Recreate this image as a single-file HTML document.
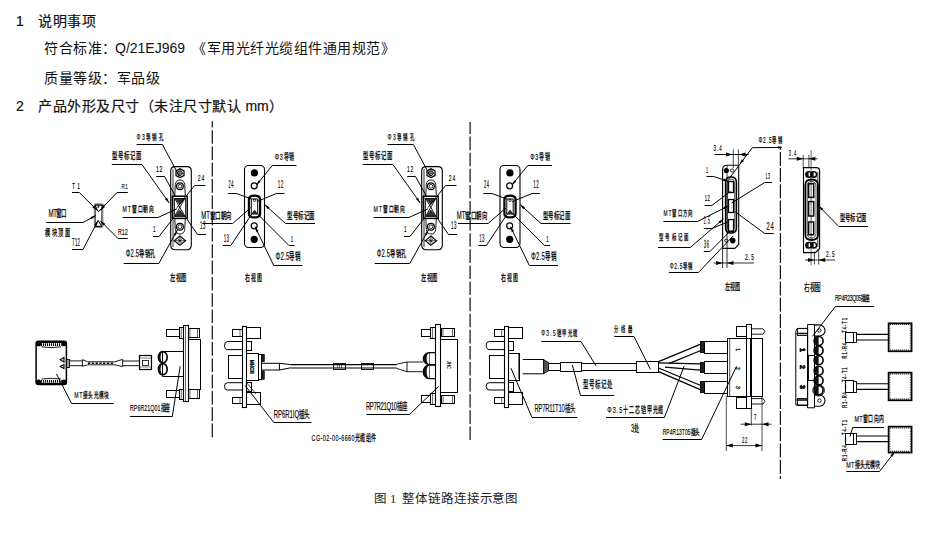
<!DOCTYPE html>
<html lang="zh-CN"><head><meta charset="utf-8">
<style>
html,body{margin:0;padding:0;background:#fff;}
body{width:929px;height:558px;overflow:hidden;position:relative;font-family:"Liberation Sans",sans-serif;color:#000;}
.t{position:absolute;white-space:nowrap;font-size:14px;line-height:14px;color:#111;letter-spacing:0.5px;}
.h{-webkit-text-stroke:0.2px #111;}
.lat{letter-spacing:0;}
svg{position:absolute;left:0;top:0;}
svg text{font-family:"Liberation Sans",sans-serif;fill:#000;stroke:#000;stroke-width:0.25px;}
</style></head><body>
<div class="t h" style="left:16px;top:14px">1</div>
<div class="t h" style="left:38px;top:14px">说明事项</div>
<div class="t" style="left:44px;top:41px">符合标准：</div>
<div class="t lat" style="left:115px;top:41px">Q/21EJ969</div>
<div class="t" style="left:192px;top:41px">《军用光纤光缆组件通用规范》</div>
<div class="t" style="left:44px;top:71px">质量等级：军品级</div>
<div class="t h" style="left:16px;top:99px">2</div>
<div class="t h" style="left:38px;top:99px">产品外形及尺寸（未注尺寸默认 <span class="lat">mm</span>）</div>
<div class="t" style="left:374px;top:491.5px;font-family:'Liberation Serif',serif;font-size:12.5px;letter-spacing:-0.1px;color:#222">图 1 &nbsp;整体链路连接示意图</div>
<svg width="929" height="558" viewBox="0 0 929 558" fill="none" stroke="#000" stroke-width="1" stroke-linecap="butt">
<path d="M212.3,121.3 V439.3" stroke-width="1.3" stroke="#222" stroke-dasharray="13.6 2.7" stroke-dashoffset="7.4"/>
<path d="M470.1,440 V122" stroke-width="1.3" stroke="#222" stroke-dasharray="13.6 2.5"/>
<path d="M780.4,146.5 V479" stroke-width="1.2" stroke="#111" stroke-dasharray="14 2.2" stroke-dashoffset="10.8"/>
<rect x="94.6" y="204" width="8" height="23.2" rx="1" stroke="#888" stroke-width="1.6"/>
<rect x="95.6" y="205" width="6" height="21.2" stroke="#222" stroke-width="0.6"/>
<path d="M95,205.2 L105,205.2 L98.3,211.8 Z" stroke-width="1.0" />
<circle cx="98.40" cy="206.90" r="0.90" stroke-width="0" fill="#000"/>
<path d="M95,226.4 L101.8,226.4 L98.2,220.4 Z" stroke-width="1.0" />
<path d="M72.00,192.50 L79.40,192.50 L97.20,210.40" stroke-width="1.0" />
<path d="M97.20,210.40 L92.40,207.42 L94.24,205.58Z" fill="#000" stroke="none"/>
<path d="M127.80,192.50 L117.00,192.50 L100.00,210.40" stroke-width="1.0" />
<path d="M100.00,210.40 L102.84,205.52 L104.73,207.31Z" fill="#000" stroke="none"/>
<path d="M46.30,222.50 L83.00,222.50 L96.00,215.40" stroke-width="1.0" />
<path d="M96.00,215.40 L91.80,219.18 L90.55,216.90Z" fill="#000" stroke="none"/>
<path d="M72.00,249.50 L83.00,249.50 L98.00,220.50" stroke-width="1.0" />
<path d="M98.00,220.50 L96.63,225.98 L94.32,224.79Z" fill="#000" stroke="none"/>
<path d="M127.80,238.50 L118.00,238.50 L100.40,220.80" stroke-width="1.0" />
<path d="M100.40,220.80 L105.20,223.78 L103.36,225.62Z" fill="#000" stroke="none"/>
<text transform="translate(72.00,188.70) scale(0.560,1)" x="0" y="0" font-size="8.75" textLength="14.29" lengthAdjust="spacing" font-weight="400"  style="stroke-width:0.15px">T1</text>
<text transform="translate(121.50,188.70) scale(0.560,1)" x="0" y="0" font-size="7.92" textLength="11.25" lengthAdjust="spacing" font-weight="400"  style="stroke-width:0.15px">R1</text>
<text transform="translate(48.60,216.71) scale(0.560,1)" x="0" y="0" font-size="9.89" textLength="32.68" lengthAdjust="spacing" font-weight="400" ><tspan font-size="10.88" style="stroke-width:0.15px">MT</tspan>窗口</text>
<text transform="translate(45.40,235.95) scale(0.560,1)" x="0" y="0" font-size="9.24" textLength="43.21" lengthAdjust="spacing" font-weight="400" >模块顶面</text>
<text transform="translate(72.00,246.00) scale(0.390,1)" x="0" y="0" font-size="11.11" textLength="20.53" lengthAdjust="spacing" font-weight="400"  style="stroke-width:0.15px">T12</text>
<text transform="translate(118.00,235.00) scale(0.545,1)" x="0" y="0" font-size="9.72" textLength="17.97" lengthAdjust="spacing" font-weight="400"  style="stroke-width:0.15px">R12</text>
<g><path d="M170.7,170.8 Q170.7,166.6 174.9,166.6 H187.1 Q191.3,166.6 191.3,170.8 V245 Q191.3,249.7 187,249.7 H175 Q170.7,249.7 170.7,245 Z" stroke-width="1.1" />
<path d="M173,169 V247" stroke-width="0.8" />
<path d="M176,170.8 L180,168.8 L184,170.8 L184,175.6 L180,177.6 L176,175.6 Z" stroke-width="1.3" />
<circle cx="179.90" cy="173.20" r="2.30" stroke-width="1.0" fill="none"/>
<path d="M177,173.2 H183 M179.9,170.4 V176" stroke-width="0.7" />
<path d="M174.8,195.5 L175.3,184.5 Q176,180 180,180 Q184,180 184.7,184.5 L185.3,195.5" stroke-width="0.9" />
<circle cx="179.90" cy="186.30" r="3.40" stroke-width="1.2" fill="none"/>
<circle cx="179.90" cy="186.30" r="1.90" stroke-width="0.8" fill="none"/>
<rect x="172.30" y="196.20" width="14.90" height="22.20" rx="0" stroke-width="1.5" fill="none" />
<rect x="174.50" y="198.50" width="11.00" height="18.00" rx="0" stroke-width="0.8" fill="none" />
<path d="M175,199 L184.6,215.6 M184.6,199 L175,215.6" stroke-width="0.9" />
<path d="M175.2,198.6 L184.4,198.6 L179.8,204.5 Z M175.2,216 L184.4,216 L179.8,210 Z" stroke-width="0.6" fill="#333"/>
<path d="M174.8,218.5 L175.3,229.5 Q176,234 180,234 Q184,234 184.7,229.5 L185.3,218.5" stroke-width="0.9" />
<circle cx="179.90" cy="226.70" r="3.40" stroke-width="1.2" fill="none"/>
<circle cx="179.90" cy="226.70" r="1.90" stroke-width="0.8" fill="none"/>
<path d="M179.9,236 L185.5,240.7 L179.9,245.4 L174.3,240.7 Z" stroke-width="1.1" />
<path d="M173.5,240.7 H186.3 M179.9,236.5 V245 M177.2,238.3 L182.6,243.1 M182.6,238.3 L177.2,243.1" stroke-width="0.7" />
<path d="M136.60,144.50 L162.40,144.50 L179.20,176.00" stroke-width="1.0" />
<path d="M111.80,164.50 L141.90,164.50 L169.20,203.00" stroke-width="1.0" />
<path d="M169.20,203.00 L164.96,199.27 L167.08,197.76Z" fill="#000" stroke="none"/>
<path d="M156.30,176.50 L164.50,176.50 L175.30,196.00" stroke-width="1.0" />
<path d="M205.40,185.50 L194.60,185.50 L177.00,207.50" stroke-width="1.0" />
<path d="M122.60,217.50 L158.00,217.50 L177.00,208.80" stroke-width="1.0" />
<path d="M153.00,236.50 L159.00,236.50 L174.50,216.50" stroke-width="1.0" />
<path d="M206.00,234.50 L197.50,234.50 L184.50,215.50" stroke-width="1.0" />
<path d="M123.70,263.50 L158.80,263.50 L177.40,230.00" stroke-width="1.0" />
<path d="M177.40,230.00 L175.87,235.44 L173.59,234.18Z" fill="#000" stroke="none"/>
<text transform="translate(136.60,139.92) scale(0.560,1)" x="0" y="0" font-size="8.04" textLength="47.86" lengthAdjust="spacing" font-weight="400" ><tspan font-size="8.85" style="stroke-width:0.15px">Φ3</tspan>导销孔</text>
<text transform="translate(111.80,159.23) scale(0.560,1)" x="0" y="0" font-size="9.57" textLength="53.93" lengthAdjust="spacing" font-weight="400" >型号标记面</text>
<text transform="translate(156.00,171.60) scale(0.560,1)" x="0" y="0" font-size="9.17" textLength="11.43" lengthAdjust="spacing" font-weight="400"  style="stroke-width:0.15px">12</text>
<text transform="translate(197.80,181.30) scale(0.560,1)" x="0" y="0" font-size="9.03" textLength="11.61" lengthAdjust="spacing" font-weight="400"  style="stroke-width:0.15px">24</text>
<text transform="translate(122.60,212.29) scale(0.560,1)" x="0" y="0" font-size="8.48" textLength="55.71" lengthAdjust="spacing" font-weight="400" ><tspan font-size="9.33" style="stroke-width:0.15px">MT</tspan>窗口朝向</text>
<text transform="translate(153.00,232.00) scale(0.468,1)" x="0" y="0" font-size="9.72" textLength="5.99" lengthAdjust="spacing" font-weight="400"  style="stroke-width:0.15px">1</text>
<text transform="translate(200.00,229.30) scale(0.399,1)" x="0" y="0" font-size="10.97" textLength="13.52" lengthAdjust="spacing" font-weight="400"  style="stroke-width:0.15px">13</text>
<text transform="translate(125.80,257.44) scale(0.560,1)" x="0" y="0" font-size="9.35" textLength="53.93" lengthAdjust="spacing" font-weight="400" ><tspan font-size="10.28" style="stroke-width:0.15px">Φ2.5</tspan>导销孔</text>
<text transform="translate(170.30,281.13) scale(0.560,1)" x="0" y="0" font-size="9.46" textLength="29.29" lengthAdjust="spacing" font-weight="400" >左视图</text></g>
<g transform="translate(251,0)"><path d="M170.7,170.8 Q170.7,166.6 174.9,166.6 H187.1 Q191.3,166.6 191.3,170.8 V245 Q191.3,249.7 187,249.7 H175 Q170.7,249.7 170.7,245 Z" stroke-width="1.1" />
<path d="M173,169 V247" stroke-width="0.8" />
<path d="M176,170.8 L180,168.8 L184,170.8 L184,175.6 L180,177.6 L176,175.6 Z" stroke-width="1.3" />
<circle cx="179.90" cy="173.20" r="2.30" stroke-width="1.0" fill="none"/>
<path d="M177,173.2 H183 M179.9,170.4 V176" stroke-width="0.7" />
<path d="M174.8,195.5 L175.3,184.5 Q176,180 180,180 Q184,180 184.7,184.5 L185.3,195.5" stroke-width="0.9" />
<circle cx="179.90" cy="186.30" r="3.40" stroke-width="1.2" fill="none"/>
<circle cx="179.90" cy="186.30" r="1.90" stroke-width="0.8" fill="none"/>
<rect x="172.30" y="196.20" width="14.90" height="22.20" rx="0" stroke-width="1.5" fill="none" />
<rect x="174.50" y="198.50" width="11.00" height="18.00" rx="0" stroke-width="0.8" fill="none" />
<path d="M175,199 L184.6,215.6 M184.6,199 L175,215.6" stroke-width="0.9" />
<path d="M175.2,198.6 L184.4,198.6 L179.8,204.5 Z M175.2,216 L184.4,216 L179.8,210 Z" stroke-width="0.6" fill="#333"/>
<path d="M174.8,218.5 L175.3,229.5 Q176,234 180,234 Q184,234 184.7,229.5 L185.3,218.5" stroke-width="0.9" />
<circle cx="179.90" cy="226.70" r="3.40" stroke-width="1.2" fill="none"/>
<circle cx="179.90" cy="226.70" r="1.90" stroke-width="0.8" fill="none"/>
<path d="M179.9,236 L185.5,240.7 L179.9,245.4 L174.3,240.7 Z" stroke-width="1.1" />
<path d="M173.5,240.7 H186.3 M179.9,236.5 V245 M177.2,238.3 L182.6,243.1 M182.6,238.3 L177.2,243.1" stroke-width="0.7" />
<path d="M136.60,144.50 L162.40,144.50 L179.20,176.00" stroke-width="1.0" />
<path d="M111.80,164.50 L141.90,164.50 L169.20,203.00" stroke-width="1.0" />
<path d="M169.20,203.00 L164.96,199.27 L167.08,197.76Z" fill="#000" stroke="none"/>
<path d="M156.30,176.50 L164.50,176.50 L175.30,196.00" stroke-width="1.0" />
<path d="M205.40,185.50 L194.60,185.50 L177.00,207.50" stroke-width="1.0" />
<path d="M122.60,217.50 L158.00,217.50 L177.00,208.80" stroke-width="1.0" />
<path d="M153.00,236.50 L159.00,236.50 L174.50,216.50" stroke-width="1.0" />
<path d="M206.00,234.50 L197.50,234.50 L184.50,215.50" stroke-width="1.0" />
<path d="M123.70,263.50 L158.80,263.50 L177.40,230.00" stroke-width="1.0" />
<path d="M177.40,230.00 L175.87,235.44 L173.59,234.18Z" fill="#000" stroke="none"/>
<text transform="translate(136.60,139.92) scale(0.560,1)" x="0" y="0" font-size="8.04" textLength="47.86" lengthAdjust="spacing" font-weight="400" ><tspan font-size="8.85" style="stroke-width:0.15px">Φ3</tspan>导销孔</text>
<text transform="translate(111.80,159.23) scale(0.560,1)" x="0" y="0" font-size="9.57" textLength="53.93" lengthAdjust="spacing" font-weight="400" >型号标记面</text>
<text transform="translate(156.00,171.60) scale(0.560,1)" x="0" y="0" font-size="9.17" textLength="11.43" lengthAdjust="spacing" font-weight="400"  style="stroke-width:0.15px">12</text>
<text transform="translate(197.80,181.30) scale(0.560,1)" x="0" y="0" font-size="9.03" textLength="11.61" lengthAdjust="spacing" font-weight="400"  style="stroke-width:0.15px">24</text>
<text transform="translate(122.60,212.29) scale(0.560,1)" x="0" y="0" font-size="8.48" textLength="55.71" lengthAdjust="spacing" font-weight="400" ><tspan font-size="9.33" style="stroke-width:0.15px">MT</tspan>窗口朝向</text>
<text transform="translate(153.00,232.00) scale(0.468,1)" x="0" y="0" font-size="9.72" textLength="5.99" lengthAdjust="spacing" font-weight="400"  style="stroke-width:0.15px">1</text>
<text transform="translate(200.00,229.30) scale(0.399,1)" x="0" y="0" font-size="10.97" textLength="13.52" lengthAdjust="spacing" font-weight="400"  style="stroke-width:0.15px">13</text>
<text transform="translate(125.80,257.44) scale(0.560,1)" x="0" y="0" font-size="9.35" textLength="53.93" lengthAdjust="spacing" font-weight="400" ><tspan font-size="10.28" style="stroke-width:0.15px">Φ2.5</tspan>导销孔</text>
<text transform="translate(170.30,281.13) scale(0.560,1)" x="0" y="0" font-size="9.46" textLength="29.29" lengthAdjust="spacing" font-weight="400" >左视图</text></g>
<g><rect x="244.50" y="165.50" width="20.00" height="82.00" rx="4" stroke-width="1.1" fill="none" />
<circle cx="254.40" cy="172.90" r="3.60" stroke-width="0" fill="#000"/>
<circle cx="254.20" cy="185.80" r="3.00" stroke-width="1.2" fill="none"/>
<path d="M248.9,199.5 Q248.9,195.6 254.5,195.6 Q260.1,195.6 260.1,199.5 V213.4 Q260.1,217.4 254.5,217.4 Q248.9,217.4 248.9,213.4 Z" stroke-width="2.2" />
<path d="M251.3,199 L257.7,199 L257.7,214 L251.3,214 Z" stroke-width="1.0" />
<circle cx="254.50" cy="200.30" r="1.20" stroke-width="0.8" fill="none"/>
<path d="M252.5,213.2 L256.5,213.2 L254.5,210.2 Z" stroke-width="0.8" fill="#333"/>
<circle cx="254.20" cy="225.80" r="3.00" stroke-width="1.2" fill="none"/>
<circle cx="254.20" cy="239.30" r="3.60" stroke-width="0" fill="#000"/>
<path d="M296.50,165.50 L272.30,165.50 L256.20,185.30" stroke-width="1.0" />
<path d="M256.20,185.30 L258.66,180.21 L260.68,181.85Z" fill="#000" stroke="none"/>
<path d="M227.90,193.50 L236.40,193.50 L251.40,199.00" stroke-width="1.0" />
<path d="M284.40,193.50 L276.50,193.50 L256.80,201.60" stroke-width="1.0" />
<path d="M202.40,223.50 L232.60,223.50 L250.50,207.90" stroke-width="1.0" />
<path d="M222.80,245.50 L230.80,245.50 L252.30,213.30" stroke-width="1.0" />
<path d="M294.40,245.50 L289.00,245.50 L255.90,212.40" stroke-width="1.0" />
<path d="M315.00,223.50 L285.50,223.50 L264.60,204.50" stroke-width="1.0" />
<path d="M264.60,204.50 L269.54,207.24 L267.80,209.16Z" fill="#000" stroke="none"/>
<path d="M302.50,265.50 L273.80,265.50 L255.00,226.70" stroke-width="1.0" />
<path d="M255.00,226.70 L258.57,231.08 L256.23,232.22Z" fill="#000" stroke="none"/>
<text transform="translate(274.70,160.27) scale(0.560,1)" x="0" y="0" font-size="8.80" textLength="34.46" lengthAdjust="spacing" font-weight="400" ><tspan font-size="9.68" style="stroke-width:0.15px">Φ3</tspan>导销</text>
<text transform="translate(228.60,187.90) scale(0.374,1)" x="0" y="0" font-size="10.42" textLength="12.83" lengthAdjust="spacing" font-weight="400"  style="stroke-width:0.15px">24</text>
<text transform="translate(277.80,187.90) scale(0.448,1)" x="0" y="0" font-size="10.14" textLength="12.49" lengthAdjust="spacing" font-weight="400"  style="stroke-width:0.15px">12</text>
<text transform="translate(201.30,218.92) scale(0.560,1)" x="0" y="0" font-size="9.67" textLength="54.29" lengthAdjust="spacing" font-weight="400" ><tspan font-size="10.64" style="stroke-width:0.15px">MT</tspan>窗口朝向</text>
<text transform="translate(223.70,242.00) scale(0.430,1)" x="0" y="0" font-size="10.00" textLength="12.32" lengthAdjust="spacing" font-weight="400"  style="stroke-width:0.15px">13</text>
<text transform="translate(290.80,242.00) scale(0.438,1)" x="0" y="0" font-size="10.00" textLength="6.16" lengthAdjust="spacing" font-weight="400"  style="stroke-width:0.15px">1</text>
<text transform="translate(287.00,218.92) scale(0.560,1)" x="0" y="0" font-size="9.67" textLength="50.00" lengthAdjust="spacing" font-weight="400" >型号标记面</text>
<text transform="translate(275.60,260.21) scale(0.560,1)" x="0" y="0" font-size="9.78" textLength="44.82" lengthAdjust="spacing" font-weight="400" ><tspan font-size="10.76" style="stroke-width:0.15px">Φ2.5</tspan>导销</text>
<text transform="translate(245.20,280.78) scale(0.560,1)" x="0" y="0" font-size="8.70" textLength="30.36" lengthAdjust="spacing" font-weight="400" >右视图</text></g>
<g transform="translate(255.5,0)"><rect x="244.50" y="165.50" width="20.00" height="82.00" rx="4" stroke-width="1.1" fill="none" />
<circle cx="254.40" cy="172.90" r="3.60" stroke-width="0" fill="#000"/>
<circle cx="254.20" cy="185.80" r="3.00" stroke-width="1.2" fill="none"/>
<path d="M248.9,199.5 Q248.9,195.6 254.5,195.6 Q260.1,195.6 260.1,199.5 V213.4 Q260.1,217.4 254.5,217.4 Q248.9,217.4 248.9,213.4 Z" stroke-width="2.2" />
<path d="M251.3,199 L257.7,199 L257.7,214 L251.3,214 Z" stroke-width="1.0" />
<circle cx="254.50" cy="200.30" r="1.20" stroke-width="0.8" fill="none"/>
<path d="M252.5,213.2 L256.5,213.2 L254.5,210.2 Z" stroke-width="0.8" fill="#333"/>
<circle cx="254.20" cy="225.80" r="3.00" stroke-width="1.2" fill="none"/>
<circle cx="254.20" cy="239.30" r="3.60" stroke-width="0" fill="#000"/>
<path d="M296.50,165.50 L272.30,165.50 L256.20,185.30" stroke-width="1.0" />
<path d="M256.20,185.30 L258.66,180.21 L260.68,181.85Z" fill="#000" stroke="none"/>
<path d="M227.90,193.50 L236.40,193.50 L251.40,199.00" stroke-width="1.0" />
<path d="M284.40,193.50 L276.50,193.50 L256.80,201.60" stroke-width="1.0" />
<path d="M202.40,223.50 L232.60,223.50 L250.50,207.90" stroke-width="1.0" />
<path d="M222.80,245.50 L230.80,245.50 L252.30,213.30" stroke-width="1.0" />
<path d="M294.40,245.50 L289.00,245.50 L255.90,212.40" stroke-width="1.0" />
<path d="M315.00,223.50 L285.50,223.50 L264.60,204.50" stroke-width="1.0" />
<path d="M264.60,204.50 L269.54,207.24 L267.80,209.16Z" fill="#000" stroke="none"/>
<path d="M302.50,265.50 L273.80,265.50 L255.00,226.70" stroke-width="1.0" />
<path d="M255.00,226.70 L258.57,231.08 L256.23,232.22Z" fill="#000" stroke="none"/>
<text transform="translate(274.70,160.27) scale(0.560,1)" x="0" y="0" font-size="8.80" textLength="34.46" lengthAdjust="spacing" font-weight="400" ><tspan font-size="9.68" style="stroke-width:0.15px">Φ3</tspan>导销</text>
<text transform="translate(228.60,187.90) scale(0.374,1)" x="0" y="0" font-size="10.42" textLength="12.83" lengthAdjust="spacing" font-weight="400"  style="stroke-width:0.15px">24</text>
<text transform="translate(277.80,187.90) scale(0.448,1)" x="0" y="0" font-size="10.14" textLength="12.49" lengthAdjust="spacing" font-weight="400"  style="stroke-width:0.15px">12</text>
<text transform="translate(201.30,218.92) scale(0.560,1)" x="0" y="0" font-size="9.67" textLength="54.29" lengthAdjust="spacing" font-weight="400" ><tspan font-size="10.64" style="stroke-width:0.15px">MT</tspan>窗口朝向</text>
<text transform="translate(223.70,242.00) scale(0.430,1)" x="0" y="0" font-size="10.00" textLength="12.32" lengthAdjust="spacing" font-weight="400"  style="stroke-width:0.15px">13</text>
<text transform="translate(290.80,242.00) scale(0.438,1)" x="0" y="0" font-size="10.00" textLength="6.16" lengthAdjust="spacing" font-weight="400"  style="stroke-width:0.15px">1</text>
<text transform="translate(287.00,218.92) scale(0.560,1)" x="0" y="0" font-size="9.67" textLength="50.00" lengthAdjust="spacing" font-weight="400" >型号标记面</text>
<text transform="translate(275.60,260.21) scale(0.560,1)" x="0" y="0" font-size="9.78" textLength="44.82" lengthAdjust="spacing" font-weight="400" ><tspan font-size="10.76" style="stroke-width:0.15px">Φ2.5</tspan>导销</text>
<text transform="translate(245.20,280.78) scale(0.560,1)" x="0" y="0" font-size="8.70" textLength="30.36" lengthAdjust="spacing" font-weight="400" >右视图</text></g>
<path d="M722.6,169.5 Q722.6,165.3 726.8,165.3 H738.7 V244.5 L734.8,248.4 H722.6 Z" stroke-width="1.1" />
<path d="M727,165.3 V268" stroke-width="0.8" />
<path d="M722.6,248.4 V268" stroke-width="0.8" />
<circle cx="726.30" cy="170.50" r="2.60" stroke-width="0" fill="#000"/>
<circle cx="732.00" cy="170.50" r="1.60" stroke-width="0.8" fill="none"/>
<circle cx="732.70" cy="240.60" r="2.80" stroke-width="0" fill="#000"/>
<circle cx="726.30" cy="240.60" r="1.60" stroke-width="0.8" fill="none"/>
<path d="M725.6,182 Q725.6,177 731,177 Q736.4,177 736.4,182 V228 Q736.4,233 731,233 Q725.6,233 725.6,228 Z" stroke-width="1.5" />
<path d="M727.3,183 Q727.3,179 731,179 Q734.7,179 734.7,183 V227 Q734.7,231 731,231 Q727.3,231 727.3,227 Z" stroke-width="0.7" />
<rect x="728.50" y="181.50" width="5.00" height="11.00" rx="0" stroke-width="1.3" fill="none" />
<rect x="728.50" y="199.50" width="5.00" height="13.00" rx="0" stroke-width="1.3" fill="none" />
<rect x="728.50" y="219.50" width="5.00" height="12.00" rx="0" stroke-width="1.3" fill="none" />
<path d="M733.3,149.2 V168 M738.4,149.2 V166" stroke-width="0.7" />
<path d="M714.5,154.5 H748.6" stroke-width="1.0" />
<path d="M732.50,154.50 L726.00,156.50 L726.00,152.50Z" fill="#000" stroke="none"/>
<path d="M739.00,154.50 L745.50,152.50 L745.50,156.50Z" fill="#000" stroke="none"/>
<text transform="translate(713.60,151.00) scale(0.438,1)" x="0" y="0" font-size="10.00" textLength="18.48" lengthAdjust="spacing" font-weight="400"  style="stroke-width:0.15px">3.4</text>
<path d="M713.6,263 H754" stroke-width="0.8" />
<path d="M722.60,263.00 L716.10,265.00 L716.10,261.00Z" fill="#000" stroke="none"/>
<path d="M727.00,263.00 L733.50,261.00 L733.50,265.00Z" fill="#000" stroke="none"/>
<text transform="translate(745.00,260.00) scale(0.494,1)" x="0" y="0" font-size="9.86" textLength="18.22" lengthAdjust="spacing" font-weight="400"  style="stroke-width:0.15px">2.5</text>
<path d="M781.70,147.40 L752.30,147.70 L728.50,179.50" stroke-width="1.0" />
<path d="M739.50,164.50 L741.72,159.28 L743.95,160.97Z" fill="#000" stroke="none"/>
<path d="M781.70,147.40 L778.20,148.70 L778.20,146.10Z" fill="#000" stroke="none"/>
<path d="M706.50,176.50 L713.60,176.50 L728.90,181.50" stroke-width="1.0" />
<path d="M728.90,181.50 L723.27,181.03 L724.08,178.56Z" fill="#000" stroke="none"/>
<path d="M704.70,205.50 L711.80,205.50 L730.70,191.30" stroke-width="1.0" />
<path d="M771.90,182.50 L764.70,182.50 L731.60,203.00" stroke-width="1.0" />
<path d="M663.40,221.50 L697.50,221.50 L728.90,205.70" stroke-width="1.0" />
<path d="M728.90,205.70 L724.57,209.33 L723.40,207.01Z" fill="#000" stroke="none"/>
<path d="M773.70,233.50 L764.70,233.50 L735.10,211.70" stroke-width="1.0" />
<path d="M703.80,228.50 L711.80,228.50 L728.90,221.50" stroke-width="1.0" />
<path d="M658.00,247.50 L690.30,247.50 L723.50,218.80" stroke-width="1.0" />
<path d="M723.50,218.80 L720.19,223.38 L718.49,221.41Z" fill="#000" stroke="none"/>
<path d="M703.80,251.50 L710.00,251.50 L728.90,232.30" stroke-width="1.0" />
<path d="M668.80,272.50 L698.40,272.50 L733.30,235.80" stroke-width="1.0" />
<text transform="translate(758.40,143.34) scale(0.560,1)" x="0" y="0" font-size="7.72" textLength="41.61" lengthAdjust="spacing" font-weight="400" ><tspan font-size="8.49" style="stroke-width:0.15px">Φ2.5</tspan>导销</text>
<text transform="translate(706.00,172.50) scale(0.414,1)" x="0" y="0" font-size="9.03" textLength="5.56" lengthAdjust="spacing" font-weight="400"  style="stroke-width:0.15px">1</text>
<text transform="translate(704.70,201.20) scale(0.500,1)" x="0" y="0" font-size="8.61" textLength="10.61" lengthAdjust="spacing" font-weight="400"  style="stroke-width:0.15px">12</text>
<text transform="translate(765.60,178.80) scale(0.408,1)" x="0" y="0" font-size="8.75" textLength="10.78" lengthAdjust="spacing" font-weight="400"  style="stroke-width:0.15px">13</text>
<text transform="translate(663.40,215.93) scale(0.560,1)" x="0" y="0" font-size="7.83" textLength="51.07" lengthAdjust="spacing" font-weight="400" ><tspan font-size="8.61" style="stroke-width:0.15px">MT</tspan>窗口方向</text>
<text transform="translate(766.50,229.60) scale(0.519,1)" x="0" y="0" font-size="11.25" textLength="13.86" lengthAdjust="spacing" font-weight="400"  style="stroke-width:0.15px">24</text>
<text transform="translate(703.80,224.20) scale(0.335,1)" x="0" y="0" font-size="10.00" textLength="18.48" lengthAdjust="spacing" font-weight="400"  style="stroke-width:0.15px">2.5</text>
<text transform="translate(659.00,239.82) scale(0.560,1)" x="0" y="0" font-size="7.93" textLength="52.68" lengthAdjust="spacing" font-weight="400" >型号标记面</text>
<text transform="translate(703.80,247.50) scale(0.422,1)" x="0" y="0" font-size="10.00" textLength="12.32" lengthAdjust="spacing" font-weight="400"  style="stroke-width:0.15px">36</text>
<text transform="translate(669.70,268.53) scale(0.560,1)" x="0" y="0" font-size="7.83" textLength="39.82" lengthAdjust="spacing" font-weight="400" ><tspan font-size="8.61" style="stroke-width:0.15px">Φ2.5</tspan>导销</text>
<text transform="translate(725.30,289.92) scale(0.524,1)" x="0" y="0" font-size="9.67" textLength="29.02" lengthAdjust="spacing" font-weight="400" >左视图</text>
<path d="M803.5,167.6 H816.4 Q819.6,167.6 819.6,170.8 V248.5 L815.5,252.6 H803.5 Z" stroke-width="1.1" />
<path d="M817.8,172 V247" stroke-width="0.8" />
<path d="M808.9,155 V168.2 M803.2,155 V168.2" stroke-width="0.7" />
<path d="M788.2,158.8 H817.6" stroke-width="0.8" />
<path d="M803.20,158.80 L796.70,160.80 L796.70,156.80Z" fill="#000" stroke="none"/>
<path d="M808.90,158.80 L815.40,156.80 L815.40,160.80Z" fill="#000" stroke="none"/>
<text transform="translate(788.80,155.70) scale(0.423,1)" x="0" y="0" font-size="9.58" textLength="17.71" lengthAdjust="spacing" font-weight="400"  style="stroke-width:0.15px">3.4</text>
<circle cx="808.60" cy="174.40" r="2.80" stroke-width="1.4" fill="none"/>
<path d="M808.6,171.6 A2.8,2.8 0 0 0 808.6,177.20000000000002 Z" stroke-width="0" fill="#111" stroke="none"/>
<circle cx="808.60" cy="245.20" r="2.80" stroke-width="1.4" fill="none"/>
<path d="M808.6,242.39999999999998 A2.8,2.8 0 0 0 808.6,248.0 Z" stroke-width="0" fill="#111" stroke="none"/>
<circle cx="813.70" cy="174.40" r="2.80" stroke-width="1.4" fill="none"/>
<path d="M813.7,171.6 A2.8,2.8 0 0 0 813.7,177.20000000000002 Z" stroke-width="0" fill="#111" stroke="none"/>
<circle cx="813.70" cy="245.20" r="2.80" stroke-width="1.4" fill="none"/>
<path d="M813.7,242.39999999999998 A2.8,2.8 0 0 0 813.7,248.0 Z" stroke-width="0" fill="#111" stroke="none"/>
<path d="M811.1,150 V265" stroke-width="0.6" />
<path d="M805.3,185 Q805.3,179.5 811.6,179.5 Q818,179.5 818,185 V234.5 Q818,240 811.6,240 Q805.3,240 805.3,234.5 Z" stroke-width="1.8" />
<path d="M807.2,186 Q807.2,181.6 811.6,181.6 Q816,181.6 816,186 V233.5 Q816,238 811.6,238 Q807.2,238 807.2,233.5 Z" stroke-width="0.7" />
<rect x="808.60" y="183.80" width="5.10" height="13.60" rx="0" stroke-width="1.5" fill="none" />
<rect x="808.60" y="201.60" width="5.10" height="14.40" rx="0" stroke-width="1.5" fill="none" />
<rect x="808.60" y="222.00" width="5.10" height="12.70" rx="0" stroke-width="1.5" fill="none" />
<path d="M814.4,251.3 V264.5 M818.7,249 V264.5" stroke-width="0.7" />
<path d="M805,260 H835.2" stroke-width="0.8" />
<path d="M814.40,260.00 L807.90,262.00 L807.90,258.00Z" fill="#000" stroke="none"/>
<path d="M818.70,260.00 L825.20,258.00 L825.20,262.00Z" fill="#000" stroke="none"/>
<text transform="translate(825.90,256.60) scale(0.472,1)" x="0" y="0" font-size="9.86" textLength="18.22" lengthAdjust="spacing" font-weight="400"  style="stroke-width:0.15px">2.5</text>
<path d="M868.00,226.50 L838.80,226.50 L818.50,205.70" stroke-width="1.0" />
<path d="M818.50,205.70 L823.27,208.73 L821.41,210.54Z" fill="#000" stroke="none"/>
<text transform="translate(839.50,220.94) scale(0.560,1)" x="0" y="0" font-size="9.35" textLength="48.21" lengthAdjust="spacing" font-weight="400" >型号标记面</text>
<text transform="translate(804.00,291.00) scale(0.557,1)" x="0" y="0" font-size="10.00" textLength="30.00" lengthAdjust="spacing" font-weight="400" >右视图</text>
<rect x="36.10" y="341.20" width="30.30" height="43.40" rx="2.5" stroke-width="1.5" fill="none" />
<circle cx="38.60" cy="343.70" r="2.60" stroke-width="0" fill="#000"/>
<circle cx="63.90" cy="343.70" r="2.60" stroke-width="0" fill="#000"/>
<circle cx="38.60" cy="382.10" r="2.60" stroke-width="0" fill="#000"/>
<circle cx="63.90" cy="382.10" r="2.60" stroke-width="0" fill="#000"/>
<path d="M40.5,342.4 H62 M40.5,383.4 H62" stroke-width="1.4" />
<path d="M41,344.6 H61.5 M41,381.2 H61.5" stroke-width="2.6" stroke-dasharray="1.1 0.9"/>
<path d="M41.5,346.8 Q51,348.4 61,346.8 M41.5,379 Q51,377.6 61,379" stroke-width="0.9" />
<path d="M64,357.6 L60.2,359.8 L64,362 Z M64,364.4 L60.2,366.5 L64,368.6 Z" stroke-width="1.1" />
<rect x="66.50" y="359.50" width="3.00" height="8.00" rx="0" stroke-width="0.9" fill="#999" />
<path d="M70,360.9 H82.4 M70,365.7 H82.4" stroke-width="0.9" />
<path d="M82.4,359.6 V366.4 M82.4,359.6 L87.7,361.8 M82.4,366.4 L87.7,364.8" stroke-width="0.9" />
<path d="M87.7,361.8 H114.6 M87.7,364.8 H114.6" stroke-width="0.9" />
<path d="M88,363.3 H114" stroke-width="1.4" stroke-dasharray="2.2 1.6"/>
<path d="M114.6,361.8 L122.7,359.4 V366.6 L114.6,364.8" stroke-width="0.9" />
<path d="M122.7,361 H139.7 M122.7,365.7 H139.7" stroke-width="0.9" />
<rect x="139.50" y="355.50" width="12.00" height="14.00" rx="0" stroke-width="1.2" fill="none" />
<rect x="142.50" y="360.50" width="6.00" height="5.00" rx="0" stroke-width="0.8" fill="none" />
<path d="M139.7,358 H151.4 M139.7,367 H151.4" stroke-width="0.5" />
<path d="M113.70,403.50 L71.60,403.50 L56.40,373.80" stroke-width="1.0" />
<text transform="translate(74.30,398.00) scale(0.560,1)" x="0" y="0" font-size="8.37" textLength="62.32" lengthAdjust="spacing" font-weight="400" ><tspan font-size="9.21" style="stroke-width:0.15px">MT</tspan>接头光模块</text>
<rect x="183.50" y="325.50" width="5.00" height="76.00" rx="0" stroke-width="1.1" fill="none" />
<path d="M185.5,326 V401.5" stroke-width="0.6" />
<rect x="188.50" y="339.50" width="12.00" height="50.00" rx="0" stroke-width="1.0" fill="none" />
<rect x="166.50" y="329.50" width="13.00" height="7.00" rx="0" stroke-width="1.0" fill="none" />
<rect x="179.50" y="327.50" width="4.00" height="11.00" rx="0" stroke-width="1.0" fill="none" />
<rect x="188.50" y="328.50" width="11.00" height="9.00" rx="0" stroke-width="1.0" fill="none" />
<path d="M181.2,327.8 V338.59999999999997 M190,328.7 V337.7 M197.5,328.7 V337.7" stroke-width="0.6" />
<rect x="166.50" y="390.50" width="13.00" height="7.00" rx="0" stroke-width="1.0" fill="none" />
<rect x="179.50" y="389.50" width="4.00" height="10.00" rx="0" stroke-width="1.0" fill="none" />
<rect x="188.50" y="389.50" width="11.00" height="9.00" rx="0" stroke-width="1.0" fill="none" />
<path d="M181.2,389.0 V399.79999999999995 M190,389.9 V398.9 M197.5,389.9 V398.9" stroke-width="0.6" />
<path d="M162.5,351.5 H183.1 M162.5,376.5 H183.1 M162.5,351.5 V376.5" stroke-width="1.0" />
<ellipse cx="162.8" cy="357.2" rx="4.4" ry="5.6" stroke-width="1.6"/>
<path d="M162.8,351.59999999999997 A4.4,5.6 0 0 0 162.8,362.8 A2.2,5.6 0 0 1 162.8,351.59999999999997 Z" stroke-width="0" fill="#111" stroke="none"/>
<ellipse cx="162.8" cy="369.2" rx="4.4" ry="5.6" stroke-width="1.6"/>
<path d="M162.8,363.59999999999997 A4.4,5.6 0 0 0 162.8,374.8 A2.2,5.6 0 0 1 162.8,363.59999999999997 Z" stroke-width="0" fill="#111" stroke="none"/>
<path d="M129.90,416.50 L172.30,416.50 L180.20,366.20" stroke-width="1.0" />
<text transform="translate(129.90,411.08) scale(0.560,1)" x="0" y="0" font-size="8.59" textLength="72.14" lengthAdjust="spacing" font-weight="400" ><tspan font-size="9.45" style="stroke-width:0.15px">RP6R21Q01</tspan>插座</text>
<rect x="242.50" y="326.50" width="4.00" height="81.00" rx="0" stroke-width="1.1" fill="none" />
<rect x="246.50" y="327.50" width="14.00" height="11.00" rx="0" stroke-width="1.0" fill="none" />
<rect x="232.50" y="329.50" width="10.00" height="7.00" rx="0" stroke-width="1.0" fill="none" />
<path d="M240.0,329.9 V336.1" stroke-width="0.6" />
<path d="M242.4,341.5 H227.5 Q224.5,341.5 224.5,345.5 Q224.5,349.6 227.5,349.6 H242.4" stroke-width="1.0" />
<rect x="246.50" y="341.50" width="5.00" height="9.00" rx="0" stroke-width="1.0" fill="none" />
<rect x="228.50" y="355.50" width="14.00" height="23.00" rx="0" stroke-width="1.0" fill="none" />
<rect x="246.50" y="353.50" width="12.00" height="27.00" rx="0" stroke-width="1.0" fill="none" />
<path d="M242.4,382.7 H227.5 Q224.5,382.7 224.5,386.3 Q224.5,390 227.5,390 H242.4" stroke-width="1.0" />
<rect x="246.50" y="382.50" width="5.00" height="9.00" rx="0" stroke-width="1.0" fill="none" />
<rect x="246.50" y="392.50" width="14.00" height="12.00" rx="0" stroke-width="1.0" fill="none" />
<rect x="232.50" y="397.50" width="10.00" height="6.00" rx="0" stroke-width="1.0" fill="none" />
<path d="M240.0,397 V403.4" stroke-width="0.6" />
<text x="250" y="359.7" font-size="5.2" font-weight="700" transform="rotate(90 250 359.7)" textLength="14.3" lengthAdjust="spacingAndGlyphs" style="stroke-width:0.3px">MHCR</text>
<rect x="258.50" y="354.50" width="3.00" height="25.00" rx="0" stroke-width="1.0" fill="none" />
<path d="M261.5,354.5 h2.8 v7 h-2.8 Z M261.5,371 h2.8 v8.3 h-2.8 Z" stroke-width="0.8" fill="#222"/>
<path d="M261.5,363.3 H279.4 M261.5,370 H279.4 M279.4,363.3 V370 M279.4,363.3 L290.6,364.6 M279.4,370 L290.6,367.8" stroke-width="1.0" />
<path d="M290.6,364.6 H396.6 M290.6,368 H396.6" stroke-width="1.1" />
<rect x="333.50" y="363.50" width="12.00" height="6.00" rx="0" stroke-width="0.9" fill="none" />
<path d="M337.5,365 V368 M339.5,365 V368 M341.5,365 V368" stroke-width="0.5" />
<rect x="361.50" y="363.50" width="12.00" height="6.00" rx="0" stroke-width="0.9" fill="none" />
<path d="M246.9,383 L256,394" stroke-width="0.8" />
<path d="M311.50,422.50 L273.80,422.50 L245.00,385.40" stroke-width="1.0" />
<text transform="translate(273.80,418.41) scale(0.560,1)" x="0" y="0" font-size="9.78" textLength="64.64" lengthAdjust="spacing" font-weight="400" ><tspan font-size="10.76" style="stroke-width:0.15px">RP6R1IQ</tspan>插头</text>
<text transform="translate(311.60,440.57) scale(0.560,1)" x="0" y="0" font-size="8.80" textLength="114.46" lengthAdjust="spacing" font-weight="400" ><tspan font-size="9.68" style="stroke-width:0.15px">CG-02-00-6660</tspan>光缆组件</text>
<path d="M396.6,364.2 L407,362 H423.4 M396.6,368.4 L407,371.7 H423.4 M407,362 V371.7" stroke-width="0.9" />
<path d="M434.9,352.6 H429.5 A6.2,6.0 0 0 0 429.5,364.6 H434.9" stroke-width="1.3" />
<path d="M429.5,352.6 A6.2,6.0 0 0 0 429.5,364.6 A2.6,5.4 0 0 1 429.5,352.6 Z" stroke-width="0" fill="#111" stroke="none"/>
<path d="M429.5,352.6 V364.6" stroke-width="0.6" />
<path d="M434.9,365 H429.5 A6.2,6.800000000000011 0 0 0 429.5,378.6 H434.9" stroke-width="1.3" />
<path d="M429.5,365 A6.2,6.800000000000011 0 0 0 429.5,378.6 A2.6,6.200000000000012 0 0 1 429.5,365 Z" stroke-width="0" fill="#111" stroke="none"/>
<path d="M429.5,365 V378.6" stroke-width="0.6" />
<rect x="435.50" y="324.50" width="5.00" height="82.00" rx="0" stroke-width="1.1" fill="none" />
<rect x="440.50" y="339.50" width="17.00" height="53.00" rx="0" stroke-width="1.0" fill="none" />
<rect x="421.50" y="329.50" width="9.00" height="7.00" rx="0" stroke-width="1.0" fill="none" />
<rect x="430.50" y="327.50" width="5.00" height="11.00" rx="0" stroke-width="1.0" fill="none" />
<rect x="441.50" y="328.50" width="13.00" height="8.00" rx="0" stroke-width="1.0" fill="none" />
<path d="M432.6,327.2 V338.40000000000003 M443,328.8 V336.8 M452.5,328.8 V336.8" stroke-width="0.6" />
<rect x="421.50" y="395.50" width="9.00" height="7.00" rx="0" stroke-width="1.0" fill="none" />
<rect x="430.50" y="393.50" width="5.00" height="11.00" rx="0" stroke-width="1.0" fill="none" />
<rect x="441.50" y="395.50" width="13.00" height="8.00" rx="0" stroke-width="1.0" fill="none" />
<path d="M432.6,393.59999999999997 V404.8 M443,395.2 V403.2 M452.5,395.2 V403.2" stroke-width="0.6" />
<text x="446.5" y="361" font-size="4.5" transform="rotate(90 446.5 361)" textLength="8" lengthAdjust="spacingAndGlyphs" style="stroke-width:0.1px">JHC</text>
<path d="M366.40,414.50 L409.50,414.50 L438.60,386.40" stroke-width="1.0" />
<text transform="translate(365.90,410.19) scale(0.540,1)" x="0" y="0" font-size="10.11" textLength="76.26" lengthAdjust="spacing" font-weight="400" ><tspan font-size="11.12" style="stroke-width:0.15px">RP7R21Q10</tspan>插座</text>
<rect x="504.50" y="326.50" width="4.00" height="81.00" rx="0" stroke-width="1.1" fill="none" />
<rect x="508.50" y="327.50" width="14.00" height="11.00" rx="0" stroke-width="1.0" fill="none" />
<rect x="494.50" y="329.50" width="10.00" height="7.00" rx="0" stroke-width="1.0" fill="none" />
<path d="M501.70000000000005,329.9 V336.1" stroke-width="0.6" />
<path d="M504.1,341.5 H489.20000000000005 Q486.20000000000005,341.5 486.20000000000005,345.5 Q486.20000000000005,349.6 489.20000000000005,349.6 H504.1" stroke-width="1.0" />
<rect x="508.50" y="341.50" width="5.00" height="9.00" rx="0" stroke-width="1.0" fill="none" />
<rect x="489.50" y="355.50" width="15.00" height="23.00" rx="0" stroke-width="1.0" fill="none" />
<rect x="508.50" y="353.50" width="11.00" height="27.00" rx="0" stroke-width="1.0" fill="none" />
<path d="M504.1,382.7 H489.20000000000005 Q486.20000000000005,382.7 486.20000000000005,386.3 Q486.20000000000005,390 489.20000000000005,390 H504.1" stroke-width="1.0" />
<rect x="508.50" y="382.50" width="5.00" height="9.00" rx="0" stroke-width="1.0" fill="none" />
<rect x="508.50" y="392.50" width="14.00" height="12.00" rx="0" stroke-width="1.0" fill="none" />
<rect x="494.50" y="397.50" width="10.00" height="6.00" rx="0" stroke-width="1.0" fill="none" />
<path d="M501.70000000000005,397 V403.4" stroke-width="0.6" />
<path d="M522.7,359.5 H543.7 M522.7,373.8 H543.7 M543.7,359.5 V373.8" stroke-width="1.0" />
<path d="M543.7,359.8 L548.5,362.5 V370.8 L543.7,373.5 Z" stroke-width="0.8" fill="#555"/>
<path d="M518.7,353.5 V379" stroke-width="0.7" />
<path d="M548.3,363.5 H636.4 M548.3,370.5 H636.4" stroke-width="1.2" />
<rect x="560.50" y="362.50" width="21.00" height="9.00" rx="0" stroke-width="1.0" fill="#fff" />
<path d="M541.30,341.50 L581.00,341.50 L596.00,365.90" stroke-width="1.0" />
<path d="M614.30,395.50 L580.50,395.50 L572.30,364.80" stroke-width="1.0" />
<path d="M577.40,417.50 L532.00,417.50 L511.00,368.20" stroke-width="1.0" />
<text transform="translate(541.30,336.34) scale(0.560,1)" x="0" y="0" font-size="7.61" textLength="64.46" lengthAdjust="spacing" font-weight="400" ><tspan font-size="8.37" style="stroke-width:0.15px">Φ3.5</tspan>铠甲光缆</text>
<text transform="translate(583.00,388.41) scale(0.560,1)" x="0" y="0" font-size="9.78" textLength="53.57" lengthAdjust="spacing" font-weight="400" >型号标记处</text>
<text transform="translate(534.40,411.79) scale(0.527,1)" x="0" y="0" font-size="10.22" textLength="77.08" lengthAdjust="spacing" font-weight="400" ><tspan font-size="11.24" style="stroke-width:0.15px">RP7R11T10</tspan>插头</text>
<rect x="636.50" y="361.50" width="22.00" height="11.00" rx="0" stroke-width="1.0" fill="none" />
<path d="M614.30,336.50 L634.00,336.50 L650.40,369.40" stroke-width="1.0" />
<text transform="translate(614.30,331.54) scale(0.560,1)" x="0" y="0" font-size="7.61" textLength="31.07" lengthAdjust="spacing" font-weight="400" >分线器</text>
<path d="M658.5,361.6 L700.2,344.4 M668.8,363.6 L700.2,350.7" stroke-width="1.2" />
<path d="M658.5,362.9 L700.2,363.9 M665,367.2 L700.2,370.2" stroke-width="1.2" />
<path d="M658.5,368 L700.2,385.2 M658.5,371.6 L700.2,389.6" stroke-width="1.2" />
<path d="M606.00,417.50 L664.40,417.50 L684.20,365.90" stroke-width="1.0" />
<text transform="translate(607.30,413.17) scale(0.560,1)" x="0" y="0" font-size="8.91" textLength="99.82" lengthAdjust="spacing" font-weight="400" ><tspan font-size="9.80" style="stroke-width:0.15px">Φ3.5</tspan>十二芯铠甲光缆</text>
<text transform="translate(630.90,432.38) scale(0.485,1)" x="0" y="0" font-size="10.33" textLength="16.69" lengthAdjust="spacing" font-weight="400" ><tspan font-size="11.36" style="stroke-width:0.15px">3</tspan>处</text>
<rect x="700.50" y="341.50" width="4.00" height="11.00" rx="0" stroke-width="0.9" fill="#222" />
<rect x="704.50" y="341.50" width="23.00" height="12.00" rx="0" stroke-width="1.0" fill="none" />
<rect x="700.50" y="362.50" width="4.00" height="10.00" rx="0" stroke-width="0.9" fill="#222" />
<rect x="704.50" y="361.50" width="23.00" height="12.00" rx="0" stroke-width="1.0" fill="none" />
<rect x="700.50" y="381.50" width="4.00" height="11.00" rx="0" stroke-width="0.9" fill="#222" />
<rect x="704.50" y="381.50" width="23.00" height="12.00" rx="0" stroke-width="1.0" fill="none" />
<rect x="727.50" y="338.50" width="23.00" height="58.00" rx="0" stroke-width="1.0" fill="none" />
<path d="M729.7,338.2 V396" stroke-width="0.7" />
<rect x="736.50" y="326.50" width="10.00" height="10.00" rx="0" stroke-width="1.0" fill="none" />
<rect x="736.50" y="397.50" width="10.00" height="11.00" rx="0" stroke-width="1.0" fill="none" />
<rect x="746.50" y="324.50" width="5.00" height="84.00" rx="0" stroke-width="1.0" fill="none" />
<rect x="751.50" y="338.50" width="11.00" height="58.00" rx="0" stroke-width="1.0" fill="none" />
<path d="M751.3,328.8 H763 L765,331.5 L763,334.2 H751.3 M751.3,398.6 H763 L765,401.3 L763,404 H751.3" stroke-width="0.9" />
<text x="735.5" y="348.2" font-size="5" transform="rotate(90 735.5 348.2)">1</text>
<text x="735.5" y="367" font-size="5" transform="rotate(90 735.5 367)">2</text>
<text x="735.5" y="385.9" font-size="5" transform="rotate(90 735.5 385.9)">3</text>
<path d="M662.70,439.50 L701.60,439.50 L736.50,366.40" stroke-width="1.0" />
<text transform="translate(662.70,435.01) scale(0.560,1)" x="0" y="0" font-size="8.15" textLength="67.14" lengthAdjust="spacing" font-weight="400" ><tspan font-size="8.97" style="stroke-width:0.15px">RP4R13T05</tspan>插头</text>
<path d="M751.3,408 V425.5 M762,396 V451 M726.3,396 V451" stroke-width="0.7" />
<path d="M740.6,424.2 H771.5" stroke-width="0.8" />
<path d="M751.30,424.20 L744.80,426.20 L744.80,422.20Z" fill="#000" stroke="none"/>
<path d="M762.00,424.20 L768.50,422.20 L768.50,426.20Z" fill="#000" stroke="none"/>
<text transform="translate(754.00,420.00) scale(0.478,1)" x="0" y="0" font-size="9.17" textLength="5.65" lengthAdjust="spacing" font-weight="400"  style="stroke-width:0.15px">7</text>
<path d="M726.3,445.6 H762" stroke-width="0.8" />
<path d="M726.30,445.60 L732.80,443.60 L732.80,447.60Z" fill="#000" stroke="none"/>
<path d="M762.00,445.60 L755.50,447.60 L755.50,443.60Z" fill="#000" stroke="none"/>
<text transform="translate(742.00,443.00) scale(0.442,1)" x="0" y="0" font-size="9.72" textLength="11.98" lengthAdjust="spacing" font-weight="400"  style="stroke-width:0.15px">22</text>
<path d="M795.8,331.5 Q795.8,328.4 798.8,328.4 H807.6 V405 H795.8 Z" stroke-width="1.0" />
<rect x="797.50" y="328.50" width="10.00" height="7.00" rx="0" stroke-width="0.9" fill="none" />
<rect x="797.50" y="398.50" width="10.00" height="7.00" rx="0" stroke-width="0.9" fill="none" />
<path d="M807.6,324.5 H814.5 V407.8 H807.6 Z" stroke-width="1.0" />
<rect x="808.50" y="355.50" width="6.00" height="25.00" rx="0" stroke-width="0.9" fill="none" />
<path d="M814.5,324.9 H819.4 A5.6,5.6 0 0 1 819.4,336.1 H814.5" stroke-width="1.1" />
<circle cx="819.40" cy="330.50" r="1.70" stroke-width="0.9" fill="none"/>
<path d="M814.5,395.0 H819.4 A5.6,5.6 0 0 1 819.4,406.20000000000005 H814.5" stroke-width="1.1" />
<circle cx="819.40" cy="400.60" r="1.70" stroke-width="0.9" fill="none"/>
<circle cx="818.60" cy="341.00" r="4.50" stroke-width="1.6" fill="none"/>
<path d="M818.6,336.5 A4.5,4.5 0 0 0 818.6,345.5 Z" stroke-width="0" fill="#111" stroke="none"/>
<circle cx="818.60" cy="350.60" r="4.50" stroke-width="1.6" fill="none"/>
<path d="M818.6,346.1 A4.5,4.5 0 0 0 818.6,355.1 Z" stroke-width="0" fill="#111" stroke="none"/>
<circle cx="818.60" cy="360.30" r="4.50" stroke-width="1.6" fill="none"/>
<path d="M818.6,355.8 A4.5,4.5 0 0 0 818.6,364.8 Z" stroke-width="0" fill="#111" stroke="none"/>
<circle cx="818.60" cy="370.80" r="4.50" stroke-width="1.6" fill="none"/>
<path d="M818.6,366.3 A4.5,4.5 0 0 0 818.6,375.3 Z" stroke-width="0" fill="#111" stroke="none"/>
<circle cx="818.60" cy="380.50" r="4.50" stroke-width="1.6" fill="none"/>
<path d="M818.6,376.0 A4.5,4.5 0 0 0 818.6,385.0 Z" stroke-width="0" fill="#111" stroke="none"/>
<circle cx="818.60" cy="390.20" r="4.50" stroke-width="1.6" fill="none"/>
<path d="M818.6,385.7 A4.5,4.5 0 0 0 818.6,394.7 Z" stroke-width="0" fill="#111" stroke="none"/>
<circle cx="818.60" cy="390.20" r="5.80" stroke-width="0.9" fill="none"/>
<text x="800" y="348" font-size="7" font-weight="700" transform="rotate(90 800 348)" style="stroke-width:0.6px">1</text>
<text x="800" y="365" font-size="7" font-weight="700" transform="rotate(90 800 365)" style="stroke-width:0.6px">2</text>
<text x="800" y="385" font-size="7" font-weight="700" transform="rotate(90 800 385)" style="stroke-width:0.6px">3</text>
<path d="M796.5,333.5 H807 M796.5,400 H807" stroke-width="1.6" />
<path d="M874.00,306.50 L835.40,306.50 L812.50,336.30" stroke-width="1.0" />
<text transform="translate(835.00,301.29) scale(0.547,1)" x="0" y="0" font-size="8.48" textLength="63.96" lengthAdjust="spacing" font-weight="400" ><tspan font-size="9.33" style="stroke-width:0.15px">RP4R23Q05</tspan>插座</text>
<rect x="888.6" y="323.3" width="23" height="28.0" stroke-width="1.7"/>
<path d="M889.8,324.5 H910.4 M889.8,350.1 H910.4" stroke-width="1.2" stroke-dasharray="1.2 0.8" stroke="#333"/>
<path d="M889.8,325.3 V349.3 M910.4,325.3 V349.3" stroke-width="1.2" stroke-dasharray="1 1.5" stroke="#444"/>
<rect x="845.50" y="332.50" width="8.00" height="10.00" rx="0" stroke-width="1.0" fill="none" />
<rect x="853.50" y="332.50" width="3.00" height="10.00" rx="0" stroke-width="0.9" fill="none" />
<path d="M856.2,334.4 H888.6 M856.2,340.0 H888.6" stroke-width="1.1" />
<rect x="888.6" y="372.6" width="23" height="27.7" stroke-width="1.7"/>
<path d="M889.8,373.8 H910.4 M889.8,399.1 H910.4" stroke-width="1.2" stroke-dasharray="1.2 0.8" stroke="#333"/>
<path d="M889.8,374.6 V398.3 M910.4,374.6 V398.3" stroke-width="1.2" stroke-dasharray="1 1.5" stroke="#444"/>
<rect x="845.50" y="380.50" width="8.00" height="12.00" rx="0" stroke-width="1.0" fill="none" />
<rect x="853.50" y="381.50" width="3.00" height="11.00" rx="0" stroke-width="0.9" fill="none" />
<path d="M856.2,383.74999999999994 H888.6 M856.2,389.34999999999997 H888.6" stroke-width="1.1" />
<rect x="888.6" y="426.6" width="23" height="26.0" stroke-width="1.7"/>
<path d="M889.8,427.8 H910.4 M889.8,451.40000000000003 H910.4" stroke-width="1.2" stroke-dasharray="1.2 0.8" stroke="#333"/>
<path d="M889.8,428.6 V450.6 M910.4,428.6 V450.6" stroke-width="1.2" stroke-dasharray="1 1.5" stroke="#444"/>
<rect x="845.50" y="433.50" width="8.00" height="11.00" rx="0" stroke-width="1.0" fill="none" />
<rect x="853.50" y="433.50" width="3.00" height="11.00" rx="0" stroke-width="0.9" fill="none" />
<path d="M856.2,436.0 H888.6 M856.2,441.6 H888.6" stroke-width="1.1" />
<text transform="translate(847,358.5) rotate(-90) scale(0.55,1)" x="0" y="-0.3" font-size="7.6" textLength="73.6" lengthAdjust="spacing">R1-R4 — T4-T1</text>
<text transform="translate(847,407.8) rotate(-90) scale(0.55,1)" x="0" y="-0.3" font-size="7.6" textLength="73.6" lengthAdjust="spacing">R1-R4 — T4-T1</text>
<text transform="translate(847,461) rotate(-90) scale(0.55,1)" x="0" y="-0.3" font-size="7.6" textLength="74.5" lengthAdjust="spacing">R1-R4 — T4-T1</text>
<path d="M884.00,427.50 L852.60,427.50 L850.00,436.50" stroke-width="1.0" />
<text transform="translate(854.40,422.48) scale(0.560,1)" x="0" y="0" font-size="8.70" textLength="52.86" lengthAdjust="spacing" font-weight="400" ><tspan font-size="9.57" style="stroke-width:0.15px">MT</tspan>窗口向内</text>
<path d="M846.30,471.50 L879.50,471.50 L894.80,451.70" stroke-width="1.0" />
<path d="M894.80,451.70 L892.47,456.85 L890.41,455.26Z" fill="#000" stroke="none"/>
<text transform="translate(846.30,468.27) scale(0.560,1)" x="0" y="0" font-size="8.80" textLength="59.29" lengthAdjust="spacing" font-weight="400" ><tspan font-size="9.68" style="stroke-width:0.15px">MT</tspan>接头光模块</text>
</svg>
</body></html>
